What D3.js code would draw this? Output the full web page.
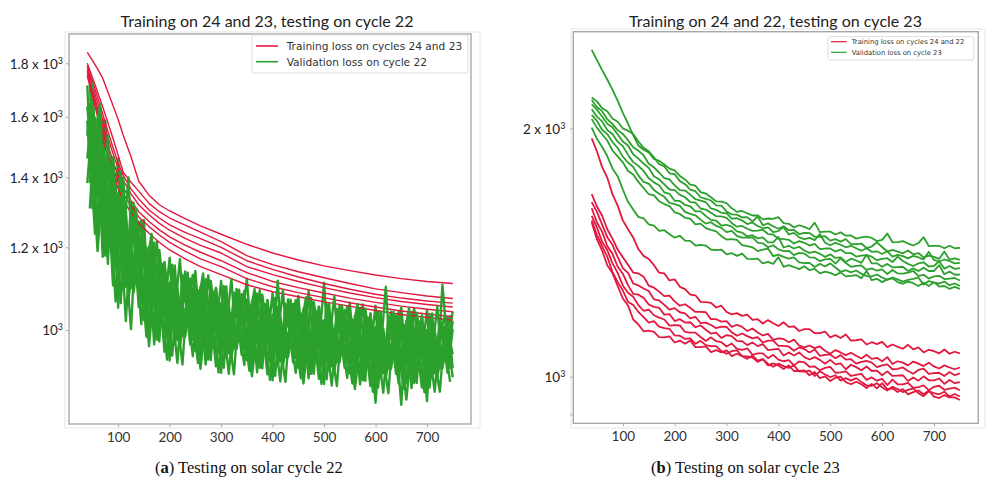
<!DOCTYPE html>
<html><head><meta charset="utf-8">
<script src="https://cdn.jsdelivr.net/npm/d3@7"></script>
<style>body{margin:0;background:#fff}</style>
</head><body>
<script>
// ---------- DATA ----------
const epochs = [40,50,60,70,80,90,100,110,120,130,
140,150,160,170,180,190,200,210,220,230,
240,250,260,270,280,290,300,310,320,330,
340,350,360,370,380,390,400,410,420,430,
440,450,460,470,480,490,500,510,520,530,
540,550,560,570,580,590,600,610,620,630,
640,650,660,670,680,690,700,710,720,730,
740,750];
const epochsOffset = [45,55,65,75,85,95,105,115,125,135,
145,155,165,175,185,195,205,215,225,235,
245,255,265,275,285,295,305,315,325,335,
345,355,365,375,385,395,405,415,425,435,
445,455,465,475,485,495,505,515,525,535,
545,555,565,575,585,595,605,615,625,635,
645,655,665,675,685,695,705,715,725,735,
745];
const epochsSparse = [40,50,60,70,80,90,100,110,125,140,160,180,200,230,260,300,350,400,450,500,550,600,650,700,750];
const xTicks = [100,200,300,400,500,600,700];

// Panel (a): training loss (cycles 24 and 23), sparse epochs
const aTrain = [
[1844,1812,1778,1742,1690,1640,1590,1535,1465,1388,1346,1318,1300,1278,1258,1235,1208,1185,1167,1152,1140,1129,1120,1113,1108],
[1800,1745,1690,1635,1580,1525,1470,1415,1385,1358,1322,1298,1280,1260,1241,1215,1178,1155,1137,1122,1108,1095,1086,1078,1072],
[1790,1730,1670,1610,1550,1495,1445,1405,1365,1335,1303,1280,1261,1240,1223,1200,1165,1143,1124,1108,1094,1082,1073,1066,1061],
[1780,1715,1650,1590,1530,1475,1428,1390,1350,1318,1289,1265,1246,1224,1205,1185,1150,1130,1113,1098,1085,1074,1065,1058,1052],
[1770,1700,1630,1565,1505,1450,1405,1368,1330,1298,1270,1247,1228,1206,1187,1165,1135,1113,1098,1085,1073,1063,1054,1047,1041],
[1760,1690,1615,1545,1485,1430,1385,1350,1315,1283,1256,1233,1213,1190,1170,1150,1120,1100,1086,1074,1062,1052,1043,1036,1030],
[1750,1675,1600,1525,1465,1410,1365,1330,1295,1265,1238,1213,1193,1170,1150,1130,1105,1088,1076,1064,1054,1044,1035,1028,1022]
];
// Panel (a): validation loss on cycle 22 (runs logged at epochs)
const aVal = [
[1714,1360,1522,1175,1463,1260,1459,1092,1225,1105,
1270,1054,1157,969,1152,1044,1173,969,1061,997,
1120,978,1066,927,1081,999,1114,941,1024,970,
1082,956,1036,911,1051,977,1085,924,1002,951,
1059,940,1017,899,1034,966,1110,915,991,941,
1045,928,1003,887,1020,951,1055,900,976,927,
1032,918,994,880,1013,947,1045,900,973,929,
1029,920],
[1382,1594,1241,1591,1275,1350,1050,1358,1186,1232,
1052,1196,995,1212,1043,1096,935,1128,1037,1079,
969,1081,941,1119,992,1043,910,1079,1003,1043,
947,1049,923,1084,970,1018,895,1053,983,1021,
931,1029,909,1090,956,1004,888,1040,971,1008,
920,1014,897,1050,943,989,872,1023,957,994,
908,1003,889,1041,937,985,855,1018,955,992,
910,1002],
[1535,1724,1343,1444,1157,1463,1222,1317,1088,1324,
1153,1274,1054,1126,975,1161,1035,1104,977,1138,
1039,1139,986,1052,936,1097,996,1058,950,1095,
1010,1120,964,1023,919,1068,975,1033,933,1070,
990,1078,948,1007,908,1053,965,1020,923,1056,
978,1062,936,992,894,1037,949,1004,909,1041,
965,1051,927,984,890,1029,945,1000,909,1105,
964,1042],
[1586,1308,1598,1322,1369,1103,1351,1215,1400,1086,
1186,1022,1201,1055,1098,953,1110,1042,1169,985,
1062,955,1100,995,1036,923,1061,1005,1119,959,
1030,936,1066,972,1010,907,1035,984,1092,942,
1010,920,1047,958,995,898,1022,972,1077,931,
997,909,1032,944,981,884,1007,957,1100,918,
984,848,1021,937,974,881,1000,955,1053,919,
980,901],
[1459,1646,1420,1248,1533,1305,1093,1276,1127,1269,
1102,1227,1098,1012,1193,1070,960,1079,1001,1103,
1004,1104,1021,961,1114,1021,932,1037,971,1064,
978,1069,995,942,1081,998,915,1013,953,1041,
960,1048,978,928,1064,985,907,1001,943,1027,
949,1034,965,915,1049,970,852,986,928,1013,
937,1022,955,909,1039,964,890,982,928,1010,
938,1020],
[1637,1438,1190,1395,1228,1463,1179,1399,1069,1178,
1220,1101,965,1098,1016,1161,1010,1153,965,1044,
1085,1012,918,1029,970,1097,975,1101,940,1012,
1051,987,903,1003,950,1068,955,1115,923,991,
1030,969,889,987,937,1053,946,1059,914,979,
1016,957,878,973,923,1037,930,1042,900,965,
1003,946,858,966,918,1033,927,1037,900,965,
1001,948]
];
// Panel (a): further validation runs (logged at epochsOffset)
const aValOffset = [
[1307,1596,1320,1586,1302,1065,1313,1100,1323,1165,
1013,1199,1047,1215,1064,937,1094,978,1129,1041,
944,1091,985,1128,1012,911,1048,950,1086,1010,
926,1057,963,1092,988,896,1023,933,1060,990,
910,1037,948,1073,975,888,1012,923,1047,978,
900,1023,935,1058,960,873,995,909,1032,965,
889,1012,926,1049,954,872,990,909,1026,963,
892],
[1719,1390,1470,1202,1463,1285,1061,1300,1097,1183,
1273,1077,1134,993,1157,1065,945,1099,987,1053,
1129,999,1053,949,1089,1019,920,1056,960,1020,
1090,975,1024,930,1059,996,904,1032,942,1000,
1068,958,1007,917,1043,984,897,1019,932,988,
1054,946,992,905,1028,969,881,1004,918,975,
1041,936,983,899,1019,963,881,1000,918,972,
1033],
[1487,1236,1595,1322,1394,1153,1418,1160,1002,1253,
1126,985,1207,1062,1117,988,1155,1015,927,1100,
1025,930,1110,1005,1056,954,1102,982,907,1062,
998,914,1075,981,1029,936,1073,963,892,1040,
979,899,1056,966,1014,927,1060,952,884,1026,
967,889,1040,953,999,911,1042,938,870,1013,
956,879,1030,946,991,909,1036,936,873,1008,
954],
[1384,1519,1645,1178,1233,1373,1229,1020,1248,1305,
1061,1153,1236,979,1024,1116,1044,930,1082,1135,
979,1056,1133,937,979,1062,1005,908,1044,1093,
957,1026,1095,920,958,1036,984,893,1021,1069,
940,1007,1075,908,946,1022,973,885,1009,1055,
929,994,1059,895,932,1007,957,871,994,1041,
918,983,1049,890,927,1002,954,873,990,1034,
918]
];

// Panel (b): training loss (cycles 24 and 22)
const bTrain = [
[1945,1876,1796,1743,1664,1612,1547,1509,1475,1428,
1401,1389,1365,1337,1334,1308,1312,1285,1277,1257,
1255,1232,1231,1229,1213,1219,1198,1190,1194,1185,
1189,1172,1174,1160,1171,1161,1152,1164,1149,1151,
1136,1142,1142,1129,1129,1134,1116,1123,1114,1125,
1106,1107,1110,1094,1101,1095,1102,1086,1094,1087,
1081,1093,1079,1085,1070,1078,1074,1067,1079,1066,
1072,1067],
[1664,1608,1568,1509,1470,1426,1396,1367,1337,1334,
1322,1289,1282,1268,1252,1254,1234,1219,1224,1212,
1198,1198,1197,1174,1174,1166,1168,1149,1156,1149,
1136,1144,1131,1122,1127,1108,1113,1111,1101,1109,
1091,1085,1091,1083,1088,1075,1066,1077,1070,1062,
1069,1060,1052,1063,1051,1054,1044,1056,1036,1044,
1040,1032,1043,1037,1030,1040,1029,1023,1032,1026,
1021,1026],
[1628,1584,1530,1476,1445,1397,1354,1336,1297,1290,
1279,1270,1241,1237,1222,1206,1211,1197,1193,1177,
1182,1161,1163,1155,1145,1150,1149,1132,1121,1128,
1120,1113,1117,1100,1106,1106,1090,1090,1088,1075,
1085,1080,1070,1079,1060,1063,1064,1053,1062,1049,
1050,1037,1042,1045,1040,1027,1032,1035,1021,1022,
1026,1016,1008,1019,1023,1008,1010,1011,1002,1013,
1004,1009],
[1600,1539,1499,1440,1409,1360,1333,1291,1260,1257,
1246,1223,1215,1212,1189,1191,1168,1174,1163,1164,
1148,1154,1140,1128,1131,1114,1123,1120,1105,1104,
1092,1100,1089,1095,1077,1079,1081,1061,1070,1061,
1070,1056,1049,1056,1048,1037,1048,1035,1038,1021,
1034,1027,1018,1029,1016,1017,1004,1015,1002,1003,
1004,988,998,989,1001,990,990,995,980,991,
982,985],
[1566,1517,1457,1424,1373,1336,1290,1264,1250,1221,
1202,1206,1187,1179,1173,1153,1155,1154,1133,1131,
1131,1117,1105,1116,1104,1101,1088,1097,1081,1078,
1082,1063,1067,1067,1053,1063,1049,1044,1047,1032,
1043,1041,1028,1029,1018,1025,1028,1011,1012,1015,
1002,1005,1008,991,998,989,994,977,992,979,
979,983,969,971,976,963,972,975,964,967,
970,963],
[1547,1486,1440,1398,1340,1303,1272,1232,1222,1198,
1181,1163,1168,1150,1145,1143,1122,1121,1111,1113,
1096,1105,1092,1089,1089,1074,1066,1074,1076,1059,
1058,1055,1042,1050,1036,1028,1037,1030,1025,1032,
1015,1014,1017,1002,1015,1006,999,1004,989,996,
989,996,985,976,975,982,971,962,972,966,
958,964,968,955,947,960,955,952,959,946,
953,946],
[1538,1468,1422,1365,1336,1288,1244,1220,1173,1157,
1135,1137,1133,1117,1116,1119,1100,1106,1096,1106,
1086,1086,1088,1071,1077,1070,1076,1059,1066,1059,
1051,1061,1046,1050,1032,1038,1032,1022,1032,1016,
1016,1018,1004,1013,996,1001,988,997,1000,985,
979,986,979,969,980,968,982,966,968,958,
966,952,958,962,952,962,946,942,950,944,
944,937]
];
// Panel (b): validation loss on cycle 23
const bVal = [
[2489,2421,2353,2292,2228,2161,2088,2027,1963,1906,
1884,1870,1836,1827,1808,1787,1779,1751,1734,1709,
1704,1674,1667,1650,1631,1630,1623,1600,1584,1588,
1577,1568,1569,1551,1555,1553,1561,1535,1532,1517,
1526,1519,1509,1537,1497,1499,1499,1487,1496,1482,
1483,1470,1475,1478,1473,1460,1465,1491,1455,1456,
1460,1450,1442,1452,1476,1440,1441,1441,1431,1441,
1431,1433],
[2180,2156,2116,2098,2056,2037,2000,1986,1968,1928,
1894,1876,1845,1810,1798,1764,1760,1726,1711,1685,
1678,1650,1643,1635,1613,1612,1586,1573,1572,1560,
1561,1542,1564,1526,1534,1522,1511,1522,1505,1506,
1489,1494,1493,1478,1477,1480,1462,1468,1458,1468,
1448,1448,1450,1432,1438,1455,1436,1418,1425,1418,
1411,1422,1407,1412,1395,1402,1397,1389,1418,1386,
1391,1385],
[2164,2123,2098,2051,2025,1990,1969,1935,1897,1879,
1855,1812,1794,1768,1741,1734,1706,1683,1681,1662,
1641,1635,1628,1599,1593,1580,1578,1554,1556,1546,
1531,1538,1523,1513,1517,1497,1501,1518,1487,1494,
1475,1468,1473,1464,1489,1453,1443,1453,1445,1435,
1441,1431,1421,1431,1417,1419,1408,1419,1398,1405,
1400,1391,1401,1395,1387,1417,1385,1379,1387,1381,
1372,1374],
[2138,2107,2067,2026,2006,1967,1928,1906,1860,1838,
1812,1791,1750,1735,1710,1686,1683,1661,1650,1628,
1626,1599,1594,1580,1565,1564,1558,1536,1520,1523,
1511,1502,1503,1507,1489,1487,1469,1468,1465,1450,
1460,1453,1442,1449,1428,1430,1430,1418,1426,1412,
1412,1398,1402,1404,1398,1384,1389,1392,1377,1398,
1381,1370,1362,1372,1376,1360,1362,1380,1352,1362,
1351,1354],
[2110,2066,2039,1991,1969,1927,1903,1858,1820,1801,
1776,1740,1720,1706,1673,1666,1634,1633,1615,1609,
1586,1586,1566,1549,1546,1524,1528,1520,1500,1495,
1479,1484,1471,1475,1455,1455,1477,1434,1441,1430,
1437,1422,1413,1418,1409,1397,1407,1393,1395,1377,
1390,1383,1374,1405,1372,1372,1359,1370,1357,1358,
1359,1343,1353,1343,1355,1343,1343,1365,1331,1341,
1329,1330],
[2076,2042,1992,1968,1925,1893,1848,1818,1796,1754,
1722,1714,1684,1666,1652,1624,1619,1611,1584,1575,
1569,1550,1533,1539,1523,1515,1497,1502,1481,1474,
1474,1475,1454,1451,1435,1443,1427,1420,1421,1404,
1413,1410,1395,1394,1381,1387,1389,1371,1391,1373,
1359,1362,1364,1347,1353,1344,1349,1332,1347,1334,
1333,1337,1343,1325,1329,1315,1323,1325,1313,1315,
1317,1308],
[2052,2004,1967,1933,1880,1849,1819,1775,1758,1722,
1693,1664,1659,1632,1619,1610,1582,1575,1558,1554,
1530,1533,1514,1506,1500,1480,1466,1468,1465,1444,
1440,1435,1420,1426,1430,1400,1406,1397,1390,1395,
1376,1373,1374,1358,1370,1360,1372,1356,1340,1346,
1338,1345,1333,1324,1323,1330,1319,1310,1319,1312,
1304,1310,1314,1319,1293,1306,1300,1297,1304,1291,
1297,1288],
[2004,1942,1900,1851,1788,1750,1686,1629,1594,1562,
1556,1530,1524,1502,1505,1488,1474,1482,1462,1461,
1442,1445,1442,1426,1424,1426,1407,1412,1401,1410,
1389,1388,1390,1372,1378,1370,1396,1359,1365,1358,
1350,1361,1346,1351,1334,1341,1336,1327,1338,1323,
1325,1328,1316,1343,1309,1314,1302,1312,1316,1302,
1296,1304,1298,1288,1300,1288,1302,1286,1288,1278,
1285,1278]
];

const aYTicks = [1000,1200,1400,1600,1800];
const aYLabels = ["10","1.2 x 10","1.4 x 10","1.6 x 10","1.8 x 10"];
const bYTicks = [900,1000,2000];
const bYLabels = [null,"10","2 x 10"];
const titles = ["Training on 24 and 23, testing on cycle 22","Training on 24 and 22, testing on cycle 23"];
const legendA = ["Training loss on cycles 24 and 23","Validation loss on cycle 22"];
const legendB = ["Training loss on cycles 24 and 22","Validation loss on cycle 23"];
const captions = [["a"," Testing on solar cycle 22"],["b"," Testing on solar cycle 23"]];

// ---------- DRAW ----------
const RED = "#e2183f", GREEN = "#2ca02c", FRAME = "#a8a8a8";
const svg = d3.select("body").append("svg").attr("width",987).attr("height",488);
const defs = svg.append("defs");

function drawPanel(p){
  const x = d3.scaleLinear().domain([4.5,785.5]).range([p.left,p.right]);
  const y = d3.scaleLog().domain(p.yDomain).range([p.bottom,p.top]);
  svg.append("rect").attr("x",p.outer[0]).attr("y",p.outer[1])
    .attr("width",p.outer[2]-p.outer[0]).attr("height",p.outer[3]-p.outer[1])
    .attr("fill","none").attr("stroke","#e6e6e6").attr("stroke-width",1);
  defs.append("clipPath").attr("id",p.id).append("rect")
    .attr("x",p.left).attr("y",p.top).attr("width",p.right-p.left).attr("height",p.bottom-p.top);
  const plot = svg.append("g").attr("clip-path",`url(#${p.id})`);
  const mk = xs => d3.line().defined((d,i)=>i<xs.length).x((d,i)=>x(xs[i])).y(d=>y(d));
  const layers = [];
  const n = Math.max(p.train.length,p.val.length);
  for(let k=0;k<n;k++){
    if(p.train[k]) layers.push({xs:p.train[k].xs, ys:p.train[k].ys, c:RED, w:p.swT});
    if(p.val[k]) layers.push({xs:p.val[k].xs, ys:p.val[k].ys, c:GREEN, w:p.swV});
  }
  layers.forEach(l=>{
    plot.append("path").attr("d",mk(l.xs)(l.ys)).attr("fill","none")
      .attr("stroke",l.c).attr("stroke-width",l.w).attr("stroke-linejoin","round");
  });
  svg.append("rect").attr("x",p.left).attr("y",p.top).attr("width",p.right-p.left).attr("height",p.bottom-p.top)
    .attr("fill","none").attr("stroke",FRAME).attr("stroke-width",1.4);

  const gx = svg.append("g").attr("transform",`translate(0,${p.bottom})`)
    .call(d3.axisBottom(x).tickValues(xTicks).tickSize(3).tickFormat(d3.format("d")));
  gx.select(".domain").remove();
  gx.selectAll("line").attr("stroke",FRAME);
  gx.selectAll("text").attr("y",17.5).attr("dy",null)
    .attr("font-family","Lato, sans-serif").attr("font-size",13.5).attr("fill","#333");

  const gy = svg.append("g").attr("transform",`translate(${p.left},0)`)
    .call(d3.axisLeft(y).tickValues(p.yTicks).tickSize(3).tickFormat(()=>""));
  gy.select(".domain").remove();
  gy.selectAll("line").attr("stroke",FRAME);
  gy.selectAll(".tick").each(function(d,i){
    const lab = p.yLabels[i];
    const t = d3.select(this).select("text");
    if(!lab){ t.remove(); return; }
    t.attr("x",-p.labelGap).attr("dy","0.35em").attr("text-anchor","end")
      .attr("font-family","Lato, sans-serif").attr("font-size",p.yFont).attr("fill","#222");
    t.append("tspan").text(lab);
    t.append("tspan").attr("dy","-0.55em").attr("font-size",p.yFont*0.66).text("3");
  });

  svg.append("text").attr("x",p.titleX).attr("y",26.5).attr("text-anchor","middle")
    .attr("font-family","Lato, sans-serif").attr("font-size",16).attr("fill","#222").text(p.title);

  const L = p.legend;
  const lg = svg.append("g");
  lg.append("rect").attr("x",L.x).attr("y",L.y).attr("width",L.w).attr("height",L.h).attr("rx",2)
    .attr("fill","#fff").attr("fill-opacity",0.9).attr("stroke","#dcdcdc").attr("stroke-width",1);
  [RED,GREEN].forEach((c,i)=>{
    const yy = L.rows[i];
    lg.append("line").attr("x1",L.lx1).attr("x2",L.lx2).attr("y1",yy).attr("y2",yy)
      .attr("stroke",c).attr("stroke-width",L.lw);
    lg.append("text").attr("x",L.tx).attr("y",yy).attr("dy","0.36em")
      .attr("font-family","DejaVu Sans, sans-serif").attr("font-size",L.fs).attr("fill","#333").text(L.labels[i]);
  });

  const cap = svg.append("text").attr("x",p.capX).attr("y",473)
    .attr("font-family","Liberation Serif, serif").attr("font-size",16.5).attr("fill","#111");
  cap.append("tspan").text("(");
  cap.append("tspan").attr("font-weight","bold").text(p.caption[0]);
  cap.append("tspan").text(")" + p.caption[1]);
}

const aTrainSeries = aTrain.map(ys=>({xs:epochsSparse, ys}));
const aValSeries = [];
for(let k=0;k<Math.max(aVal.length,aValOffset.length);k++){
  if(aVal[k]) aValSeries.push({xs:epochs, ys:aVal[k]});
  if(aValOffset[k]) aValSeries.push({xs:epochsOffset, ys:aValOffset[k]});
}
const bTrainSeries = bTrain.map(ys=>({xs:epochs, ys}));
const bValSeries = bVal.map(ys=>({xs:epochs, ys}));

drawPanel({id:"clipA", left:69, right:471, top:34, bottom:424, yDomain:[813,1920],
  outer:[65,32,480,428], train:aTrainSeries, val:aValSeries, swT:1.4, swV:2.4,
  yTicks:aYTicks, yLabels:aYLabels, labelGap:6, yFont:13.5, title:titles[0], titleX:267,
  legend:{x:252,y:35,w:216,h:38,rows:[46,61.7],lx1:256,lx2:278,tx:286.7,fs:10.6,lw:1.6,labels:legendA},
  caption:captions[0], capX:155});

drawPanel({id:"clipB", left:573.3, right:978.3, top:31.7, bottom:423.3, yDomain:[878,2619],
  outer:[571,29,985,428], train:bTrainSeries, val:bValSeries, swT:1.8, swV:1.8,
  yTicks:bYTicks, yLabels:bYLabels, labelGap:8, yFont:13.5, title:titles[1], titleX:775.5,
  legend:{x:828,y:36.7,w:146,h:23.3,rows:[41.7,52.3],lx1:831,lx2:846.7,tx:851.7,fs:6.8,lw:1.2,labels:legendB},
  caption:captions[1], capX:651});
</script>
</body></html>
